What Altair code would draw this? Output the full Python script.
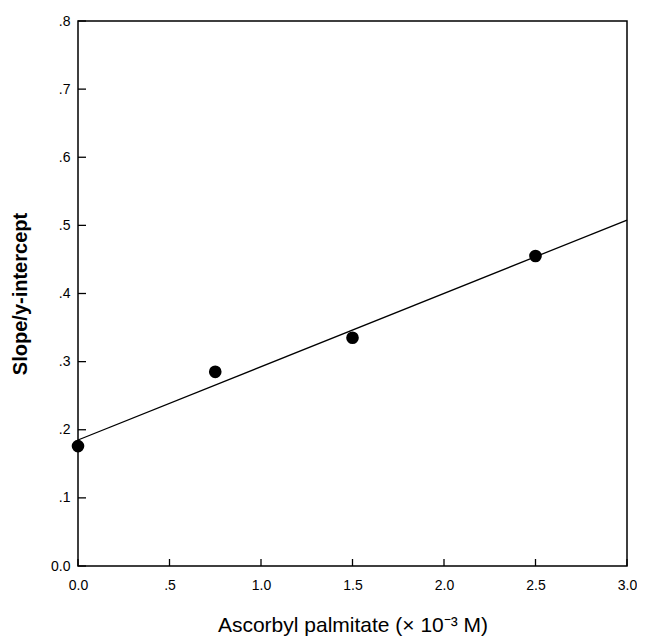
import altair as alt
import pandas as pd

conc = [0.0, 0.75, 1.5, 2.5]
ratio = [0.176, 0.285, 0.335, 0.455]
x_ticks = [0.0, 0.5, 1.0, 1.5, 2.0, 2.5, 3.0]
y_ticks = [0.0, 0.1, 0.2, 0.3, 0.4, 0.5, 0.6, 0.7, 0.8]

pts = pd.DataFrame({"x": conc, "y": ratio})
xt = pd.DataFrame({"x": x_ticks})
yt = pd.DataFrame({"y": y_ticks})

W, H = 549, 545
FONT = "Liberation Sans"

lab_expr = "datum.value == 0 ? '0.0' : (datum.value < 1 ? replace(format(datum.value, '.1f'), '0.', '.') : format(datum.value, '.1f'))"

xs = alt.Scale(domain=[0, 3], nice=False, zero=False)
ys = alt.Scale(domain=[0, 0.8], nice=False, zero=False)

xaxis = alt.Axis(values=x_ticks, labelExpr=lab_expr, ticks=False, domain=False, grid=False,
                 labelFlush=False, labelOverlap=False, labelBound=False,
                 labelPadding=12, labelFontSize=14, labelFont=FONT, labelColor="black",
                 title="Ascorbyl palmitate (×  10⁻³ M)", titleFont=FONT, titleFontSize=21,
                 titleFontWeight="normal", titleColor="black", titlePadding=22)
yaxis = alt.Axis(values=y_ticks, labelExpr=lab_expr, ticks=False, domain=False, grid=False,
                 labelFlush=False, labelOverlap=False,
                 labelPadding=8, labelFontSize=14, labelFont=FONT, labelColor="black",
                 title="Slope/y-intercept", titleFont=FONT, titleFontSize=20,
                 titleFontWeight="bold", titleColor="black",
                 titleX=-58, titleY=H / 2, titleAngle=-90, titleAlign="center",
                 titleBaseline="middle")

points = alt.Chart(pts).mark_circle(size=160, color="black", opacity=1).encode(
    x=alt.X("x:Q", scale=xs, axis=xaxis),
    y=alt.Y("y:Q", scale=ys, axis=yaxis),
)

fit = alt.Chart(pts).transform_regression("x", "y", extent=[0, 3]).mark_line(
    color="black", strokeWidth=1.3).encode(
    x=alt.X("x:Q", scale=xs),
    y=alt.Y("y:Q", scale=ys),
)

xtick_marks = alt.Chart(xt).mark_rule(color="black", strokeWidth=1.3).encode(
    x=alt.X("x:Q", scale=xs),
    y=alt.value(H),
    y2=alt.value(H - 7),
)
ytick_marks = alt.Chart(yt).mark_rule(color="black", strokeWidth=1.3).encode(
    y=alt.Y("y:Q", scale=ys),
    x=alt.value(0),
    x2=alt.value(8),
)

chart = alt.layer(xtick_marks, ytick_marks, fit, points).properties(
    width=W, height=H,
    background="white",
    autosize=alt.AutoSizeParams(type="none"),
    padding={"left": 70, "top": 13, "right": 10, "bottom": 70},
).configure_view(stroke="black", strokeWidth=1.5)

chart.save("out.html", embed_options={"renderer": "svg", "actions": False})
